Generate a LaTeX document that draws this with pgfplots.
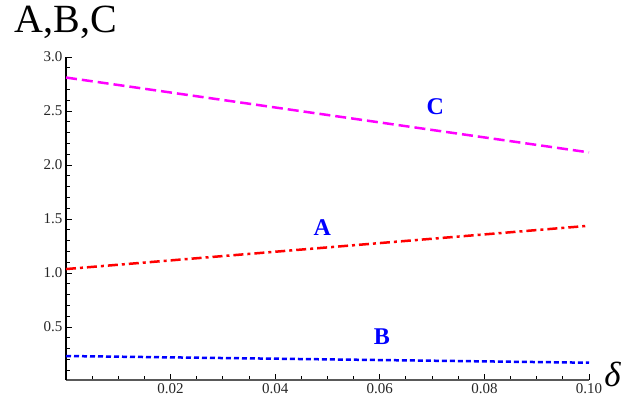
\documentclass[border=0pt]{standalone}
\usepackage{pgfplots}
\pgfplotsset{compat=1.18}
\usepackage{fontspec}
\setmainfont{Liberation Serif}
\definecolor{mag}{rgb}{1,0,1}
\definecolor{rd}{rgb}{1,0,0}
\definecolor{bl}{rgb}{0,0,1}
\begin{document}
\begin{tikzpicture}
\begin{axis}[
  scale only axis,
  width=523pt, height=323pt,
  xmin=0, xmax=0.1, ymin=0.01, ymax=3.0,
  axis lines=left,
  axis line style={-, line width=1.4pt},
  x axis line style={gray!70!black},
  tick align=inside,
  major tick length=6pt, minor tick length=4pt,
  tick style={black, line width=1pt},
  xtick={0.02,0.04,0.06,0.08,0.1},
  minor xtick={0.005,0.01,0.015,0.025,0.03,0.035,0.045,0.05,0.055,0.065,0.07,0.075,0.085,0.09,0.095},
  ytick={0.5,1.0,1.5,2.0,2.5,3.0},
  minor ytick={0.1,0.2,0.3,0.4,0.6,0.7,0.8,0.9,1.1,1.2,1.3,1.4,1.6,1.7,1.8,1.9,2.1,2.2,2.3,2.4,2.6,2.7,2.8,2.9},
  xticklabel style={/pgf/number format/.cd, fixed, fixed zerofill, precision=2},
  yticklabel style={/pgf/number format/.cd, fixed, fixed zerofill, precision=1},
  /pgf/number format/assume math mode=true,
  ticklabel style={font=\fontsize{15}{17}\selectfont, text=black!85},
  clip=false,
]
\addplot[mag, line width=2.5pt, dash pattern=on 11pt off 5pt] coordinates {(0,2.81) (0.1,2.117)};
\addplot[rd, line width=2.5pt, dash pattern=on 10pt off 4pt on 3pt off 4pt] coordinates {(0,1.037) (0.1,1.438)};
\addplot[bl, line width=2.5pt, dash pattern=on 5pt off 3pt] coordinates {(0,0.232) (0.1,0.17)};
\node[text=bl, font=\fontsize{24}{26}\selectfont\bfseries] at (axis cs:0.0706,2.54) {C};
\node[text=bl, font=\fontsize{24}{26}\selectfont\bfseries] at (axis cs:0.049,1.42) {A};
\node[text=bl, font=\fontsize{24}{26}\selectfont\bfseries] at (axis cs:0.0604,0.41) {B};
\node[font=\fontsize{40}{44}\selectfont] at (rel axis cs:0,1.108) {A,B,C};
\node[font=\fontsize{35}{40}\selectfont\itshape] at (rel axis cs:1.045,0.016) {δ};
\coordinate (bl) at (rel axis cs:-0.1262,-0.0588);
\coordinate (tr) at (rel axis cs:1.0784,1.1765);
\end{axis}
\pgfresetboundingbox
\useasboundingbox (bl) rectangle (tr);
\end{tikzpicture}
\end{document}
